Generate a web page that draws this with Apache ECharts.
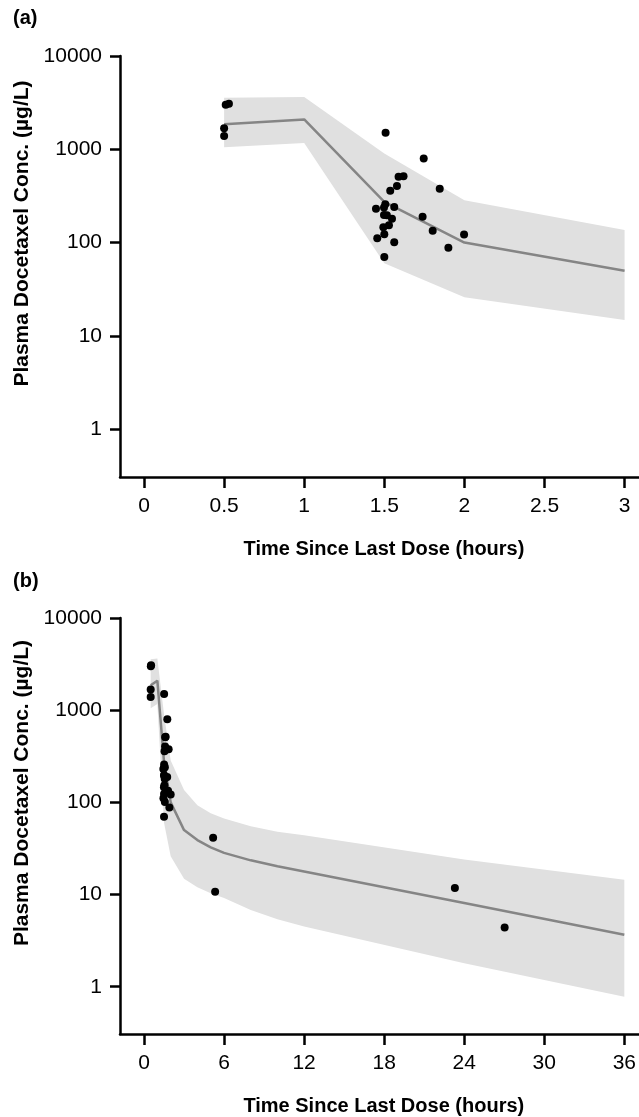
<!DOCTYPE html>
<html><head><meta charset="utf-8">
<script src="https://cdn.jsdelivr.net/npm/echarts@6/dist/echarts.min.js"></script>
<style>html,body{margin:0;padding:0;background:#fff}#c{width:639px;height:1117px}</style>
</head><body><div id="c"></div>
<script>
// Model prediction: median and prediction-interval bounds (µg/L) vs time (hours)
const predTime  = [0.5, 1, 1.5, 2, 3, 4, 5, 6, 8, 10, 12, 24, 36];
const predMed   = [1860, 2090, 273, 100, 50, 39, 32.5, 28.3, 23.5, 20.3, 17.8, 8.1, 3.66];
const predUpper = [3560, 3630, 900, 285, 136, 93, 76, 67, 55, 48, 44, 24, 14.5];
const predLower = [1050, 1170, 60, 26, 14.8, 12, 10.3, 9.2, 6.8, 5.4, 4.5, 1.8, 0.78];

// Observed concentrations
const obsTime = [0.51, 0.53, 0.50, 0.50, 1.508, 1.746, 1.589, 1.62, 1.579, 1.537, 1.846, 1.506,
                 1.448, 1.562, 1.498, 1.498, 1.516, 1.548, 1.739, 1.529, 1.494, 1.802, 1.5, 1.998,
                 1.456, 1.562, 1.9, 1.5, 5.18, 5.33, 23.3, 27.03];
const obsConc = [3000, 3080, 1680, 1390, 1500, 795, 507, 515, 403, 359, 377, 258,
                 230, 240, 238, 197, 196, 180, 189, 153, 146, 134, 123, 122,
                 111, 101, 88, 70, 41.4, 10.7, 11.8, 4.39];

// Axis ticks
const yTicks  = [1, 10, 100, 1000, 10000];
const xTicksA = [0, 0.5, 1, 1.5, 2, 2.5, 3];
const xTicksB = [0, 6, 12, 18, 24, 30, 36];

const FONT = 'Liberation Sans, Arial, sans-serif';
const BLACK = '#000';

function bandRows(tmax) {
  const out = [];
  predTime.forEach((t, i) => { if (t <= tmax) out.push([t, predLower[i], predUpper[i]]); });
  return out;
}
function medRows(tmax) {
  const out = [];
  predTime.forEach((t, i) => { if (t <= tmax) out.push([t, predMed[i]]); });
  return out;
}
function obs(tmax) {
  return obsTime.map((t, i) => [t, obsConc[i]]).filter(p => p[0] <= tmax);
}

function yAxis(g) {
  return {
    type: 'log', logBase: 10, gridIndex: g, min: 0.307, max: 10000,
    axisLine: {show: true, onZero: false, lineStyle: {color: BLACK, width: 2.5}},
    axisTick: {show: true, length: 10, lineStyle: {color: BLACK, width: 2.5}, customValues: yTicks},
    axisLabel: {customValues: yTicks, fontSize: 21, color: BLACK, margin: 18, fontFamily: FONT,
                formatter: v => String(Math.round(v))},
    splitLine: {show: false}, minorTick: {show: false},
    name: 'Plasma Docetaxel Conc. (µg/L)', nameLocation: 'middle', nameGap: 87, nameRotate: 90,
    nameTextStyle: {fontSize: 21, fontWeight: 'bold', color: BLACK, fontFamily: FONT, padding: [0, 0, 0, 66]}
  };
}
function xAxis(g, min, max, ticks) {
  return {
    type: 'value', gridIndex: g, min: min, max: max,
    axisLine: {show: true, onZero: false, lineStyle: {color: BLACK, width: 2.5}},
    axisTick: {show: true, length: 11, lineStyle: {color: BLACK, width: 2.5}, customValues: ticks},
    axisLabel: {customValues: ticks, fontSize: 21, color: BLACK, margin: 19, fontFamily: FONT},
    splitLine: {show: false},
    name: 'Time Since Last Dose (hours)', nameLocation: 'middle', nameGap: 62,
    nameTextStyle: {fontSize: 20, fontWeight: 'bold', color: BLACK, fontFamily: FONT, padding: [0, 0, 0, 9]}
  };
}
function panelSeries(idx, tmax) {
  const band = bandRows(tmax);
  return [
    {type: 'custom', xAxisIndex: idx, yAxisIndex: idx, data: band, silent: true, z: 1,
     encode: {x: 0, y: [1, 2]},
     renderItem: function (params, api) {
       if (params.dataIndex !== 0) return null;
       const up = band.map(r => api.coord([r[0], r[2]]));
       const lo = band.map(r => api.coord([r[0], r[1]])).reverse();
       return {type: 'polygon', shape: {points: up.concat(lo)},
               style: {fill: '#e0e0e0', stroke: null}};
     }},
    {type: 'line', xAxisIndex: idx, yAxisIndex: idx, data: medRows(tmax), symbol: 'none',
     lineStyle: {color: '#858585', width: 2.5}, z: 2},
    {type: 'scatter', xAxisIndex: idx, yAxisIndex: idx, data: obs(tmax), symbol: 'circle', symbolSize: 8,
     itemStyle: {color: BLACK, opacity: 1}, z: 3}
  ];
}

const chart = echarts.init(document.getElementById('c'), null, {renderer: 'canvas'});
chart.setOption({
  backgroundColor: '#fff',
  animation: false,
  title: [
    {text: '(a)', left: 8, top: 3, padding: 5, textStyle: {fontSize: 20, fontWeight: 'bold', color: BLACK, fontFamily: FONT}},
    {text: '(b)', left: 8, top: 566, padding: 5, textStyle: {fontSize: 20, fontWeight: 'bold', color: BLACK, fontFamily: FONT}}
  ],
  grid: [
    {left: 120, right: 0, top: 56, height: 421},
    {left: 120, right: 0, top: 618, height: 421}
  ],
  xAxis: [xAxis(0, -0.15, 3.09, xTicksA), xAxis(1, -1.8, 37.07, xTicksB)],
  yAxis: [yAxis(0), yAxis(1)],
  series: panelSeries(0, 3).concat(panelSeries(1, 40))
});
</script>
</body></html>
